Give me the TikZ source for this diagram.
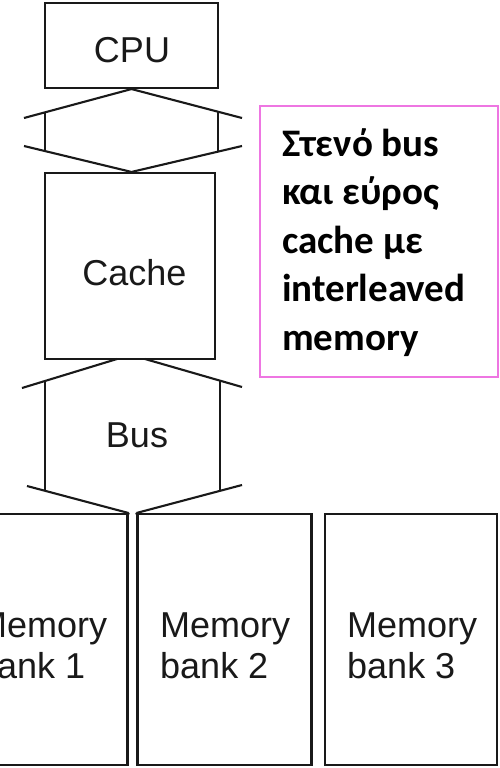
\documentclass[tikz,border=0pt]{standalone}
\usepackage{fontspec}
\setmainfont{Liberation Sans}
\newfontfamily\notefont{Carlito}
\definecolor{notepink}{RGB}{238,118,226}
\definecolor{ink}{RGB}{25,25,25}
\tikzset{
  unitbox/.style={draw=ink, line width=2.1pt, inner sep=0pt},
  busline/.style={draw=ink, line width=2.1pt, line join=miter},
  lbl/.style={text=ink, font=\fontsize{36}{41}\selectfont, inner sep=0pt},
}
\begin{document}
\begin{tikzpicture}[x=1pt,y=-1pt]
\clip (0,0) rectangle (500,768);
\useasboundingbox (0,0) rectangle (500,768);
\fill[white] (0,0) rectangle (500,768);
% boxes
\node[unitbox, minimum width=173pt, minimum height=85pt] (cpu) at (131.5,45.5) {};
\node[unitbox, minimum width=170pt, minimum height=186pt] (cache) at (130,266) {};
\node[unitbox, minimum width=173pt, minimum height=251pt] (bank1) at (41,639.5) {};
\node[unitbox, minimum width=174pt, minimum height=251pt] (bank2) at (224.5,639.5) {};
\node[unitbox, minimum width=172pt, minimum height=251pt] (bank3) at (411,639.5) {};
% labels
\node[lbl, anchor=base] (cpuL) at (132,63) {CPU};
\node[lbl, anchor=base] (cacheL) at (134.5,285) {Cache};
\node[lbl, anchor=base] (busL) at (137,447) {Bus};
\node[lbl, anchor=base west] (b1a) at (-23,637) {Memory};
\node[lbl, anchor=base west] (b1b) at (-23,678) {bank 1};
\node[lbl, anchor=base west] (b2a) at (160,637) {Memory};
\node[lbl, anchor=base west] (b2b) at (160,678) {bank 2};
\node[lbl, anchor=base west] (b3a) at (347,637) {Memory};
\node[lbl, anchor=base west] (b3b) at (347,678) {bank 3};
% upper bus (CPU <-> cache)
\coordinate (ut) at (cpu.south);
\coordinate (ub) at (cache.north -| cpu.south);
\draw[busline] (24,118) -- (ut) -- (242,118);
\draw[busline] (24,146) -- (ub) -- (242,146);
\draw[busline] (45,112.6) -- (45,151.2);
\draw[busline] (218,111.8) -- (218,151.9);
% lower bus (cache <-> memory)
\coordinate (lt1) at (117,359);
\coordinate (lt2) at (145,359);
\coordinate (lb1) at (bank1.north east |- 0,513);
\coordinate (lb2) at (bank2.north west |- 0,513);
\draw[busline] (lt1) -- (lt2);
\draw[busline] (22,388) -- (lt1);
\draw[busline] (lt2) -- (242,387);
\draw[busline] (45,381.2) -- (45,490.9);
\draw[busline] (220,380.9) -- (220,490.9);
\draw[busline] (27,486) -- (lb1) -- (bank1.north east);
\draw[busline] (242,485) -- (lb2) -- (bank2.north west);
% note
\node[draw=notepink, line width=1.5pt, minimum width=238pt, minimum height=271pt, inner sep=0pt] (note) at (379,241.5) {};
\node[anchor=north west, inner sep=0pt, align=left, text=black,
      font=\notefont\bfseries\fontsize{39}{48.5}\selectfont] (noteT) at (282,128)
  {Στενό bus\\και εύρος\\cache με\\interleaved\\memory};
\end{tikzpicture}
\end{document}
